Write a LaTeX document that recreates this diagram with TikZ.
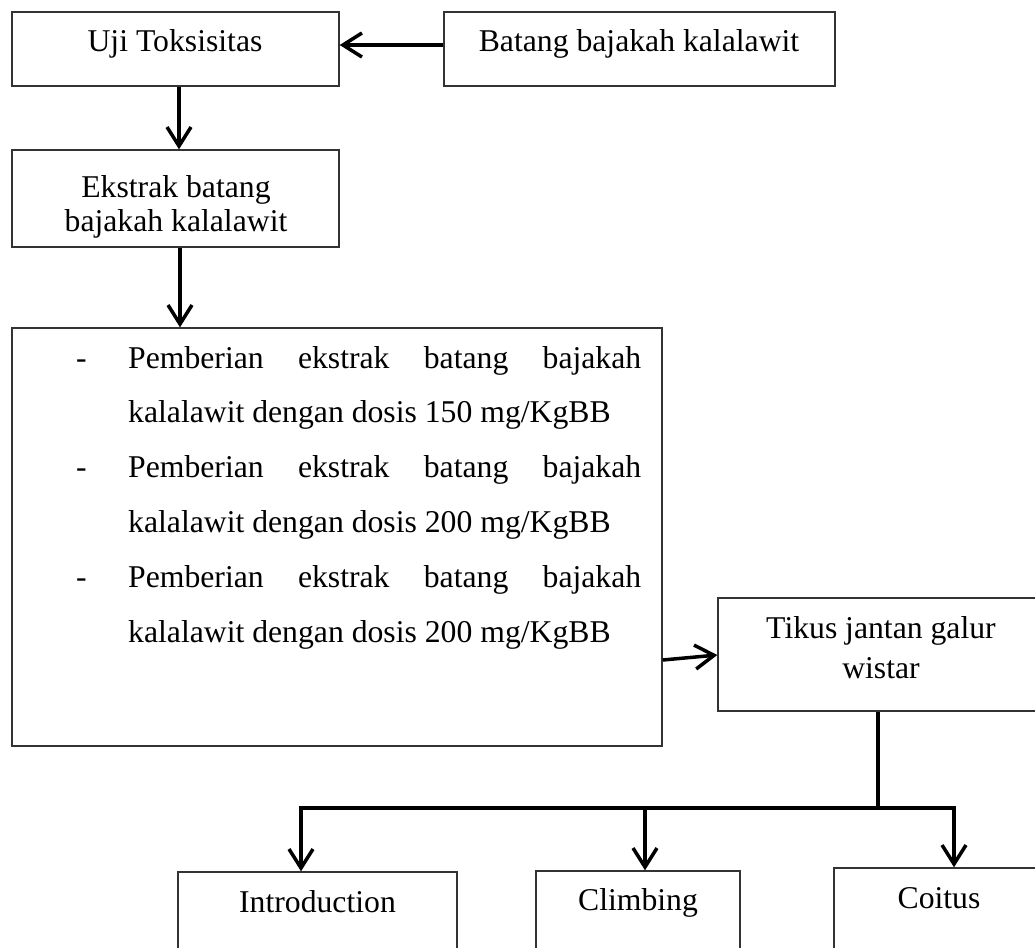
\documentclass[tikz,border=0pt]{standalone}
\usepackage{fontspec}
\setmainfont{Liberation Serif}
\usetikzlibrary{arrows.meta}
\newcommand{\dfs}{\fontsize{31.7}{38}\selectfont}
\begin{document}
\begin{tikzpicture}[x=1pt,y=-1pt,
  box/.style={draw=black!80, line width=1.4pt, inner sep=0pt, fill=none},
  txt/.style={anchor=base, inner sep=0pt, font=\dfs},
  conn/.style={line width=3.5pt, black},
  arr/.style={conn, -{Straight Barb[length=19pt,width=24pt]}}]
\useasboundingbox (0,0) rectangle (1035,947);
\fill[white] (0,0) rectangle (1035,947);
% boxes
\node[box, minimum width=327pt, minimum height=74pt] (uji) at (175.5,49) {};
\node[box, minimum width=391pt, minimum height=74pt] (batang) at (639.5,49) {};
\node[box, minimum width=327pt, minimum height=97pt] (ekstrak) at (175.5,198.5) {};
\node[box, minimum width=650pt, minimum height=418pt] (perlakuan) at (337,537) {};
\node[box, minimum width=326pt, minimum height=113pt] (tikus) at (881,654.5) {};
\node[box, minimum width=279pt, minimum height=88pt] (intro) at (317.5,916) {};
\node[box, minimum width=204pt, minimum height=89pt] (climb) at (638,915.5) {};
\node[box, minimum width=210pt, minimum height=92pt] (coitus) at (939,914) {};
% texts
\node[txt] (tuji) at (175,52) {Uji Toksisitas};
\node[txt] (tbatang) at (639,52) {Batang bajakah kalalawit};
\node[txt] (tek1) at (176,197) {Ekstrak batang};
\node[txt] (tek2) at (176,231) {bajakah kalalawit};
\node[txt] (tti1) at (881,638) {Tikus jantan galur};
\node[txt] (tti2) at (881,678) {wistar};
\node[txt] (tintro) at (317.5,912) {Introduction};
\node[txt] (tclimb) at (638,910) {Climbing};
\node[txt] (tcoitus) at (939,908) {Coitus};
\node[anchor=base west, inner sep=0pt, font=\dfs] (list) at (76,642) {\vbox{\baselineskip=54.8pt \lineskiplimit=-100pt
\hbox{\hbox to 52pt{-\hss}\hbox to 513pt{Pemberian\hfill ekstrak\hfill batang\hfill bajakah}}
\hbox{\hskip52pt kalalawit dengan dosis 150 mg/KgBB}
\hbox{\hbox to 52pt{-\hss}\hbox to 513pt{Pemberian\hfill ekstrak\hfill batang\hfill bajakah}}
\hbox{\hskip52pt kalalawit dengan dosis 200 mg/KgBB}
\hbox{\hbox to 52pt{-\hss}\hbox to 513pt{Pemberian\hfill ekstrak\hfill batang\hfill bajakah}}
\hbox{\hskip52pt kalalawit dengan dosis 200 mg/KgBB}}};
% connectors
\draw[arr] (batang.west |- 0,45) -- (uji.east |- 0,45);
\draw[arr] (uji.south -| 179,0) -- (ekstrak.north -| 179,0);
\draw[arr] (ekstrak.south -| 180,0) -- (perlakuan.north -| 180,0);
\draw[arr] (perlakuan.east |- 0,660) -- (tikus.west |- 0,655);
\coordinate (j) at (878,808);
\coordinate (b1) at (301,808);
\coordinate (b2) at (645,808);
\coordinate (b3) at (954,808);
\draw[conn] (tikus.south -| j) -- (j);
\draw[conn, line width=4pt, line cap=rect] (b1) -- (b3);
\draw[arr] (b1) -- (intro.north -| b1);
\draw[arr] (b2) -- (climb.north -| b2);
\draw[arr] (b3) -- (coitus.north -| b3);
\end{tikzpicture}
\end{document}
